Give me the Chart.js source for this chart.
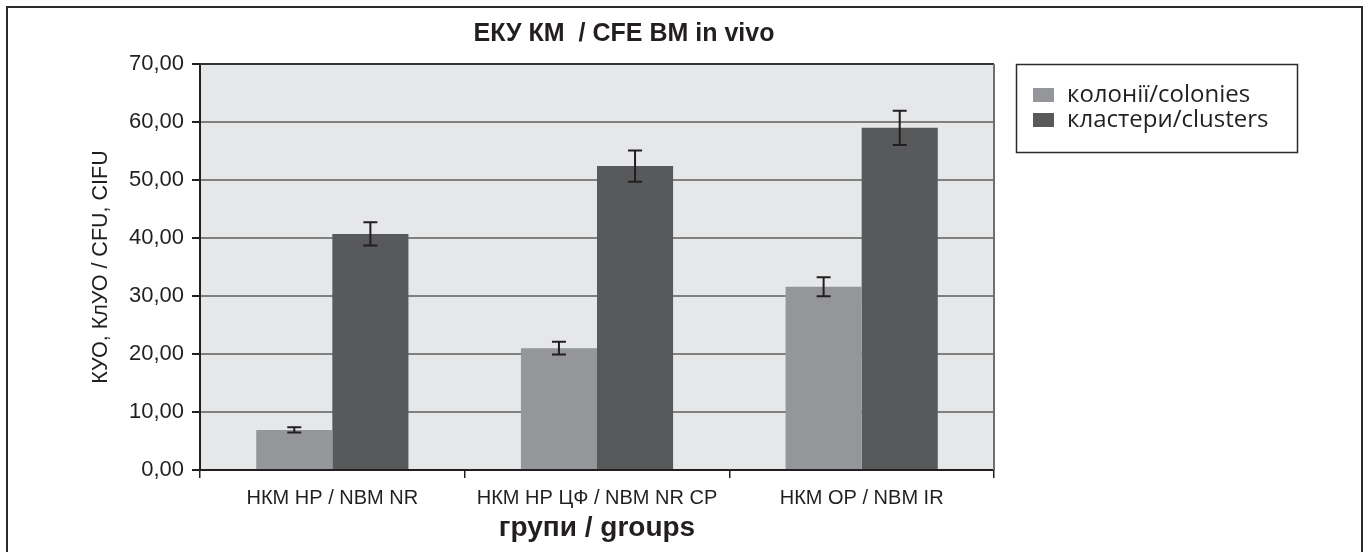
<!DOCTYPE html>
<html>
<head>
<meta charset="utf-8">
<script src="https://cdn.jsdelivr.net/npm/chart.js@4.4.1/dist/chart.umd.min.js"></script>
<style>
  html, body { margin: 0; padding: 0; background: #fff; }
</style>
</head>
<body>
<canvas id="barChart" width="1369" height="552"></canvas>
<script>
// data
const groups = ['НКМ НР / NBM NR', 'НКМ НР ЦФ / NBM NR CP', 'НКМ ОР / NBM IR'];
const colonies = [6.9, 21.0, 31.6];
const coloniesErr = [0.45, 1.1, 1.65];
const clusters = [40.7, 52.4, 59.0];
const clustersErr = [2.0, 2.7, 2.95];
const yTicks = [0, 10, 20, 30, 40, 50, 60, 70];

Chart.defaults.font.family = '"Liberation Sans", Arial, sans-serif';
Chart.defaults.color = '#231f20';

// grey plot area + outer frame
const frame = {
    id: 'frame',
    beforeDraw(chart) {
        const { ctx, chartArea: a } = chart;
        ctx.save();
        ctx.fillStyle = '#fff';
        ctx.fillRect(0, 0, chart.width, chart.height);
        ctx.fillStyle = '#e6e7e9';
        ctx.fillRect(a.left, a.top, a.right - a.left, a.bottom - a.top);
        ctx.strokeStyle = '#2b2b2b';
        ctx.lineWidth = 2;
        ctx.strokeRect(7, 7, chart.width - 14, chart.height + 20);
        ctx.restore();
    },
    beforeDatasetsDraw(chart) {
        const { ctx, chartArea: a } = chart;
        ctx.save();
        ctx.strokeStyle = '#333';
        ctx.lineWidth = 2;
        ctx.beginPath();
        ctx.moveTo(a.left, a.top);
        ctx.lineTo(a.right, a.top);
        ctx.stroke();
        ctx.strokeStyle = '#6f6f6f';
        ctx.beginPath();
        ctx.moveTo(a.right, a.top);
        ctx.lineTo(a.right, a.bottom);
        ctx.stroke();
        ctx.restore();
    }
};

// error bars on top of each bar
const errorBars = {
    id: 'errorBars',
    afterDatasetsDraw(chart) {
        const { ctx, scales: { y } } = chart;
        ctx.save();
        ctx.strokeStyle = '#231f20';
        ctx.lineWidth = 2;
        chart.data.datasets.forEach((ds, i) => {
            chart.getDatasetMeta(i).data.forEach((bar, j) => {
                const top = y.getPixelForValue(ds.data[j] + ds.errors[j]);
                const bot = y.getPixelForValue(ds.data[j] - ds.errors[j]);
                ctx.beginPath();
                ctx.moveTo(bar.x, top); ctx.lineTo(bar.x, bot);
                ctx.moveTo(bar.x - 7, top); ctx.lineTo(bar.x + 7, top);
                ctx.moveTo(bar.x - 7, bot); ctx.lineTo(bar.x + 7, bot);
                ctx.stroke();
            });
        });
        ctx.restore();
    }
};

// boxed legend to the right of the plot
const boxLegend = {
    id: 'boxLegend',
    afterDraw(chart) {
        const { ctx, chartArea: a } = chart;
        const x0 = a.right + 22, y0 = a.top;
        ctx.save();
        ctx.strokeStyle = '#2b2b2b';
        ctx.lineWidth = 1.5;
        ctx.strokeRect(x0 + 0.5, y0 + 0.5, 281, 88);
        ctx.font = '24px "Open Sans"';
        ctx.textBaseline = 'middle';
        chart.data.datasets.forEach((ds, i) => {
            const cy = y0 + 31 + i * 25;
            ctx.fillStyle = ds.backgroundColor;
            ctx.fillRect(x0 + 17, cy - 7, 21, 14);
            ctx.fillStyle = '#231f20';
            ctx.fillText(ds.label, x0 + 51, cy);
        });
        ctx.restore();
    }
};

// title sits a bit right of the plot centre
const titleShift = {
    id: 'titleShift',
    afterLayout(chart) {
        chart.titleBlock.left += 27;
        chart.titleBlock.right += 27;
    }
};

const ctx = document.getElementById('barChart').getContext('2d');
const barChart = new Chart(ctx, {
    type: 'bar',
    data: {
        labels: groups,
        datasets: [
            {
                label: 'колонії/colonies',
                data: colonies,
                errors: coloniesErr,
                backgroundColor: '#959699',
            },
            {
                label: 'кластери/clusters',
                data: clusters,
                errors: clustersErr,
                backgroundColor: '#58595b',
            },
        ]
    },
    options: {
        responsive: false,
        animation: false,
        layout: {
            padding: { left: 8, top: 8, right: 375, bottom: 0 }
        },
        datasets: {
            bar: { categoryPercentage: 0.575, barPercentage: 1.0 }
        },
        scales: {
            x: {
                grid: {
                    offset: true,
                    drawOnChartArea: false,
                    tickColor: '#231f20',
                    tickLength: 8,
                    lineWidth: 1.5,
                },
                border: { color: '#231f20', width: 2 },
                ticks: { font: { size: 20 }, padding: 8, color: '#231f20' },
                title: {
                    display: true,
                    text: 'групи / groups',
                    font: { size: 28, weight: 'bold' },
                    padding: { top: 0, bottom: 7 },
                },
                afterFit(scale) { scale.height = 82; },
            },
            y: {
                min: 0,
                max: 70,
                afterBuildTicks(scale) {
                    scale.ticks = yTicks.map(v => ({ value: v }));
                },
                grid: {
                    color: '#808080',
                    lineWidth: 2,
                    tickColor: '#231f20',
                    tickLength: 8,
                },
                border: { color: '#231f20', width: 2 },
                ticks: {
                    font: { size: 22 },
                    padding: 8,
                    color: '#231f20',
                    callback: v => v.toFixed(2).replace('.', ','),
                },
                title: {
                    display: true,
                    text: 'КУО, КлУО / CFU, CIFU',
                    font: { size: 21.5 },
                    padding: { top: 80, bottom: 0 },
                },
                afterFit(scale) { scale.width = 192; },
            },
        },
        plugins: {
            legend: { display: false },
            tooltip: { enabled: false },
            title: {
                display: true,
                fullSize: false,
                text: 'ЕКУ КМ  / CFE BM in vivo',
                font: { size: 25, weight: 'bold' },
                color: '#231f20',
                padding: { top: 11, bottom: 15 },
            },
        },
    },
    plugins: [frame, errorBars, boxLegend, titleShift],
});
</script>
</body>
</html>
